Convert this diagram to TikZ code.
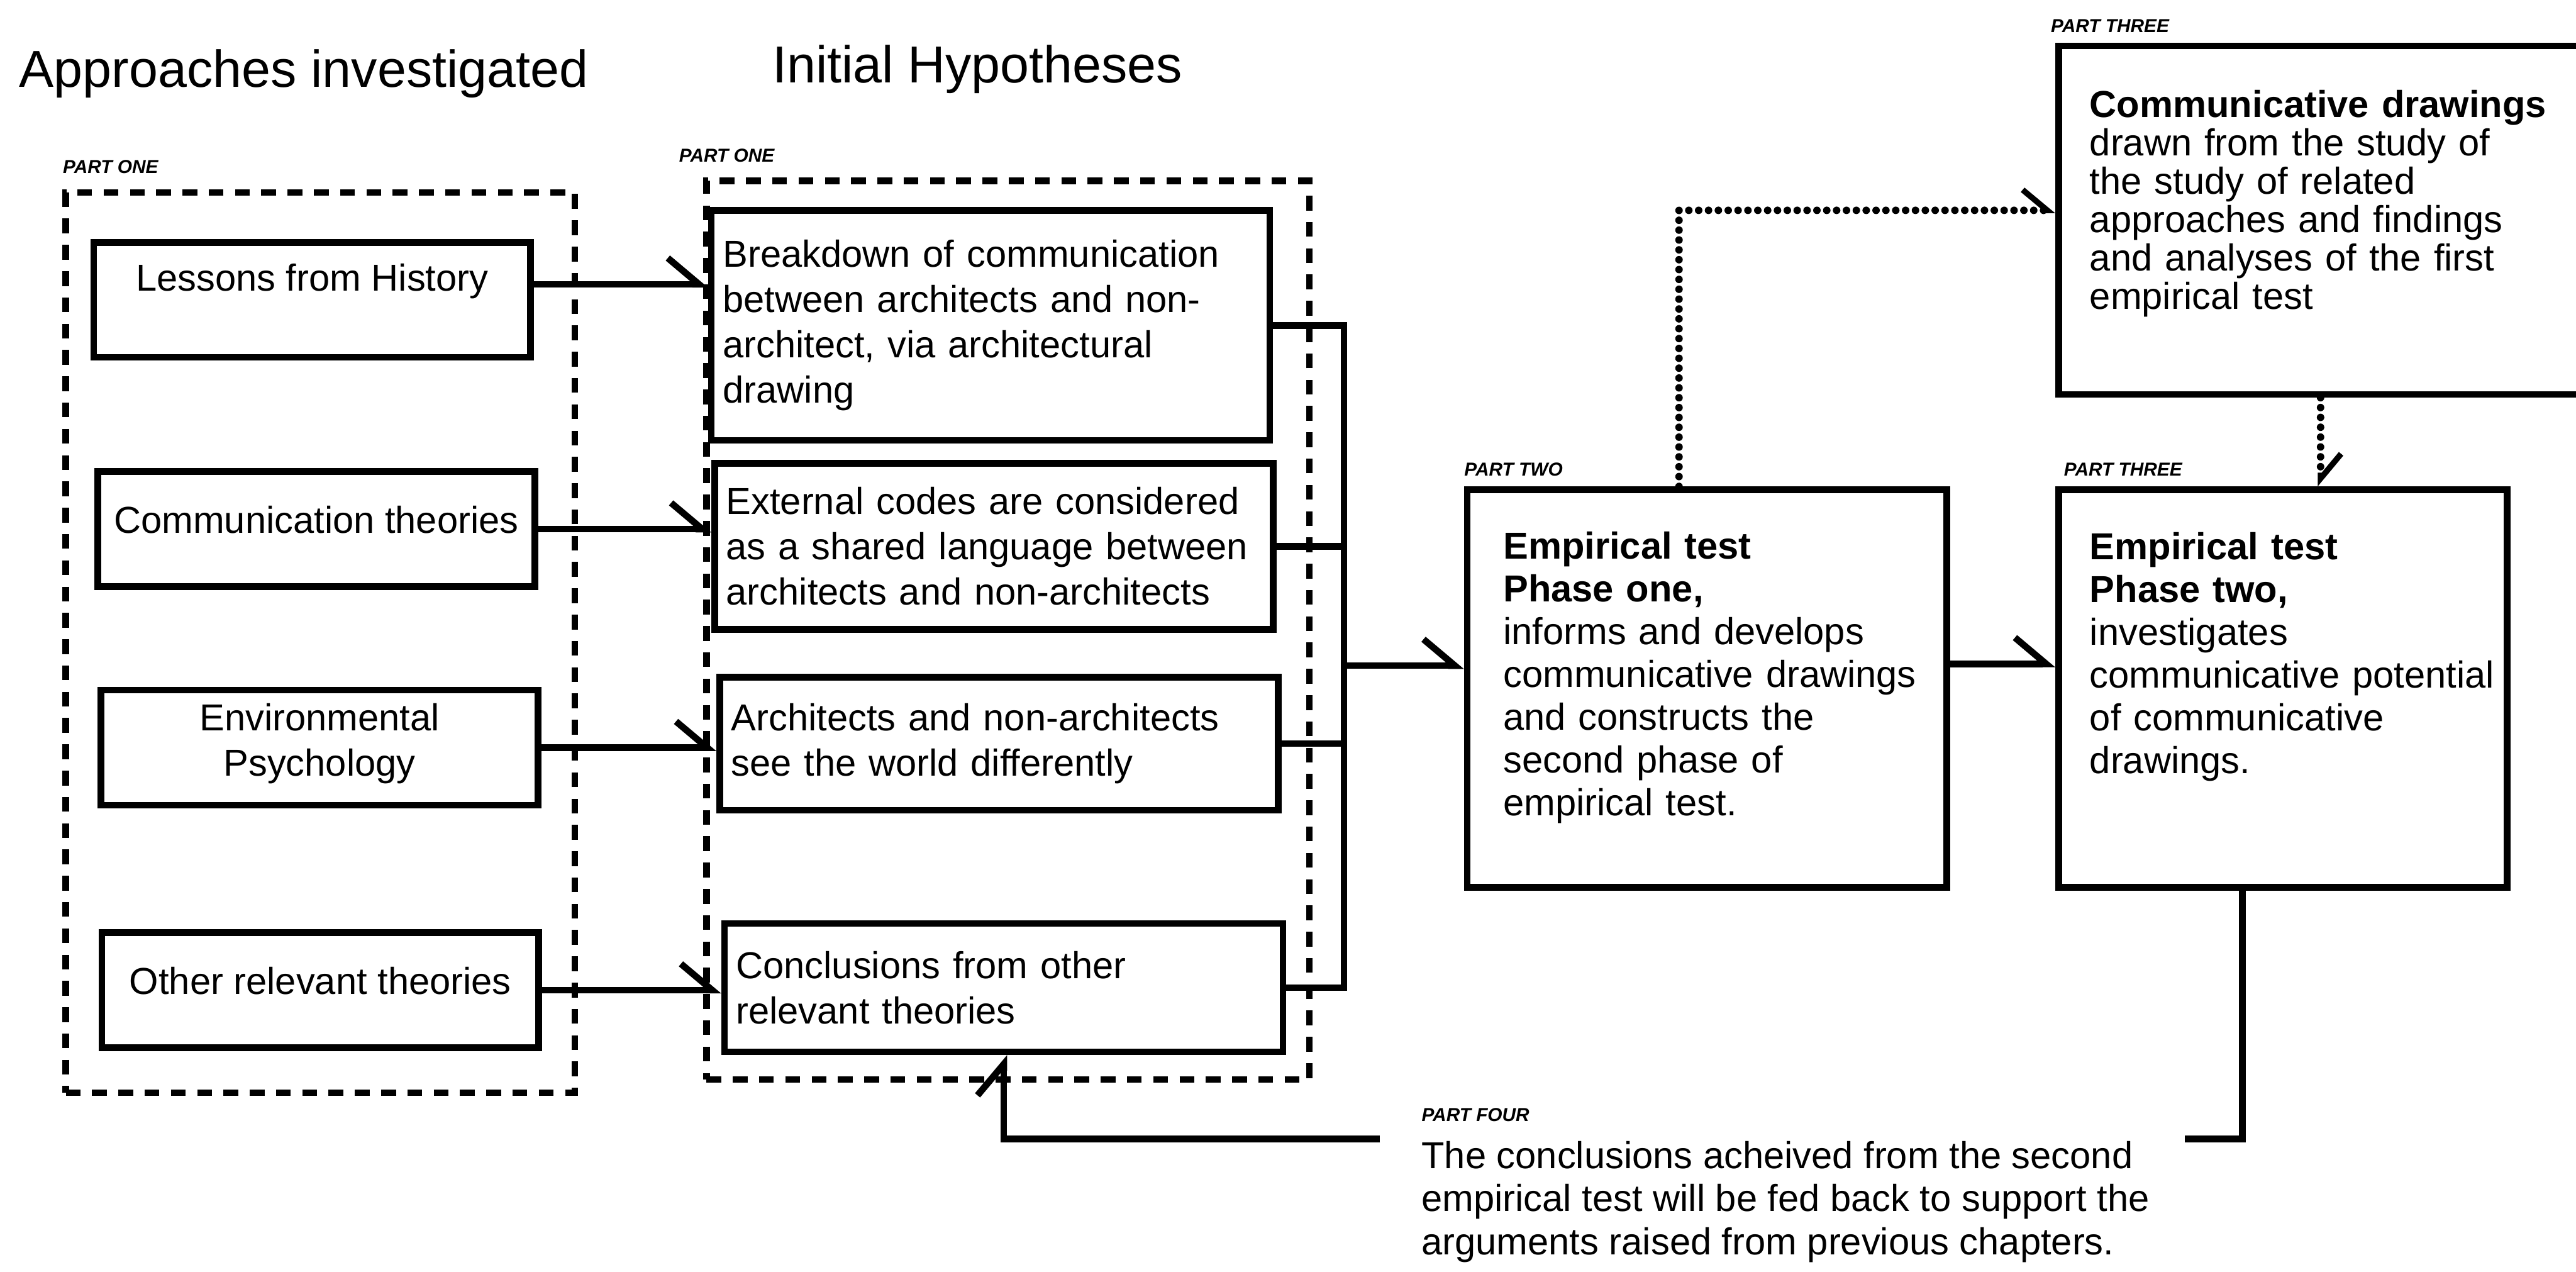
\documentclass[tikz,border=0pt]{standalone}
\usepackage{fontspec}
\setmainfont{Liberation Sans}
\usetikzlibrary{arrows.meta,calc}
\begin{document}
\begin{tikzpicture}[x=0.02cm, y=-0.02cm,
  every node/.style={font=\fontsize{13}{15.7}\selectfont},
  ln/.style={line width=2.3pt},
  arr/.style={ln, -{Straight Barb[harpoon, length=0.38cm, width=0.64cm]}},
  dots/.style={line width=2.6pt, dash pattern=on 0pt off 0.12cm, line cap=round, -{Straight Barb[harpoon, length=0.3cm, width=0.5cm, line width=2pt]}},
  grp/.style={draw, line width=2.3pt, dash pattern=on 0.18cm off 0.14cm, inner sep=0pt},
  boxA/.style={draw, line width=2.3pt, minimum width=5.32cm, minimum height=1.4cm, align=center, inner sep=0pt},
  boxB/.style={draw, line width=2.3pt, minimum width=6.8cm, inner xsep=0.14cm, text width=6.52cm, align=left},
  boxC/.style={draw, line width=2.3pt, font=\fontsize{13}{14.8}\selectfont, align=left},
  partlbl/.style={font=\fontsize{6.5}{7}\selectfont\bfseries\itshape, inner sep=0pt, anchor=south west},
  title/.style={font=\fontsize{18}{21}\selectfont}
]
\useasboundingbox (0,0) rectangle (1568,774);

% titles
\node[title] (t1) at (185,45) {Approaches investigated};
\node[title] (t2) at (595,42) {Initial Hypotheses};

% dashed groups
\node[grp, minimum width=6.2cm, minimum height=10.96cm] (gA) at (195,391) {};
\node[grp, minimum width=7.34cm, minimum height=10.94cm] (gB) at (613.5,383.5) {};
\node[partlbl] (lgA) at ([yshift=0.18cm]gA.north west) {PART ONE};
\node[partlbl] (lgB) at ([xshift=-0.3cm, yshift=0.18cm]gB.north west) {PART ONE};

% left boxes
\node[boxA] (a1) at (190,182.5) {Lessons from History\\[0pt]\mbox{}};
\node[boxA] (a2) at (192.5,322) {Communication theories\\[-9pt]\mbox{}};
\node[boxA] (a3) at (194.5,455) {\mbox{}\\[-9pt]Environmental\\Psychology};
\node[boxA] (a4) at (195,602.5) {Other relevant theories\\[-9pt]\mbox{}};

% middle boxes
\node[boxB, minimum height=2.8cm] (b1) at (603,198) {Breakdown of communication\\between architects and non-\\architect, via architectural\\drawing};
\node[boxB, minimum height=2.02cm] (b2) at (605,332.5) {External codes are considered\\\mbox{as a shared language between}\\architects and non-architects};
\node[boxB, minimum height=1.62cm] (b3) at (608,452.5) {Architects and non-architects\\see the world differently};
\node[boxB, minimum height=1.56cm] (b4) at (611,601) {Conclusions from other\\relevant theories};

% right boxes
\node[boxC, minimum width=5.84cm, minimum height=4.84cm, inner xsep=0.44cm, text width=4.96cm] (pt2) at (1039,419)
  {\textbf{Empirical test}\\\textbf{Phase one,}\\informs and develops\\\mbox{communicative drawings}\\and constructs the\\second phase of\\empirical test.\\[-4.6pt]\mbox{}};
\node[boxC, minimum width=5.46cm, minimum height=4.84cm, inner xsep=0.38cm, text width=4.7cm] (pt3) at (1389.5,419)
  {\textbf{Empirical test}\\\textbf{Phase two,}\\investigates\\\mbox{communicative potential}\\of communicative\\drawings.\\[10pt]\mbox{}};
\node[boxC, font=\fontsize{13}{13.3}\selectfont, minimum width=6.38cm, minimum height=4.24cm, inner xsep=0.38cm, text width=5.62cm] (top) at (1412.5,134)
  {\textbf{Communicative drawings}\\drawn from the study of\\the study of related\\approaches and findings\\and analyses of the first\\empirical test\\[1pt]\mbox{}};

\node[partlbl] (lpt2) at ([yshift=0.12cm]pt2.north west) {PART TWO};
\node[partlbl] (lpt3) at ([xshift=0.1cm, yshift=0.12cm]pt3.north west) {PART THREE};
\node[partlbl] (ltop) at ([xshift=-0.06cm, yshift=0.12cm]top.north west) {PART THREE};

% part four text
\node[anchor=north west, inner sep=0pt, align=left, font=\fontsize{13}{15}\selectfont] (p4) at (865,694)
  {The conclusions acheived from the second\\empirical test will be fed back to support the\\arguments raised from previous chapters.};
\node[partlbl] (lp4) at ([yshift=0.22cm]p4.north west) {PART FOUR};

% left -> middle connectors
\coordinate (c1) at ([yshift=0.19cm]a1.east);
\draw[arr] (c1) -- (c1 -| b1.west);
\draw[arr] (a2.east) -- (a2.east -| b2.west);
\draw[arr] (a3.east) -- (a3.east -| b3.west);
\draw[arr] (a4.east) -- (a4.east -| b4.west);

% bus to part two
\coordinate (bus) at (818,405);
\draw[ln] (b1.east) -- (b1.east -| bus) -- (b4.east -| bus) -- (b4.east);
\draw[ln] (b2.east) -- (b2.east -| bus);
\draw[ln] (b3.east) -- (b3.east -| bus);
\draw[arr] (bus) -- (bus -| pt2.west);

% part two -> part three
\coordinate (c5) at ([yshift=0.3cm]pt2.east);
\draw[arr] (c5) -- (c5 -| pt3.west);

% dotted connectors
\draw[dots] ([xshift=-0.34cm]pt2.north) |- ([yshift=0.12cm]top.west);
\draw[dots] (top.south) -- (top.south |- pt3.north);

% part four feedback
\coordinate (p4a) at (1330,693);
\coordinate (p4b) at (840,693);
\draw[ln] ([xshift=-0.49cm]pt3.south) |- (p4a);
\draw[arr] (p4b) -| (b4.south);
\end{tikzpicture}
\end{document}
